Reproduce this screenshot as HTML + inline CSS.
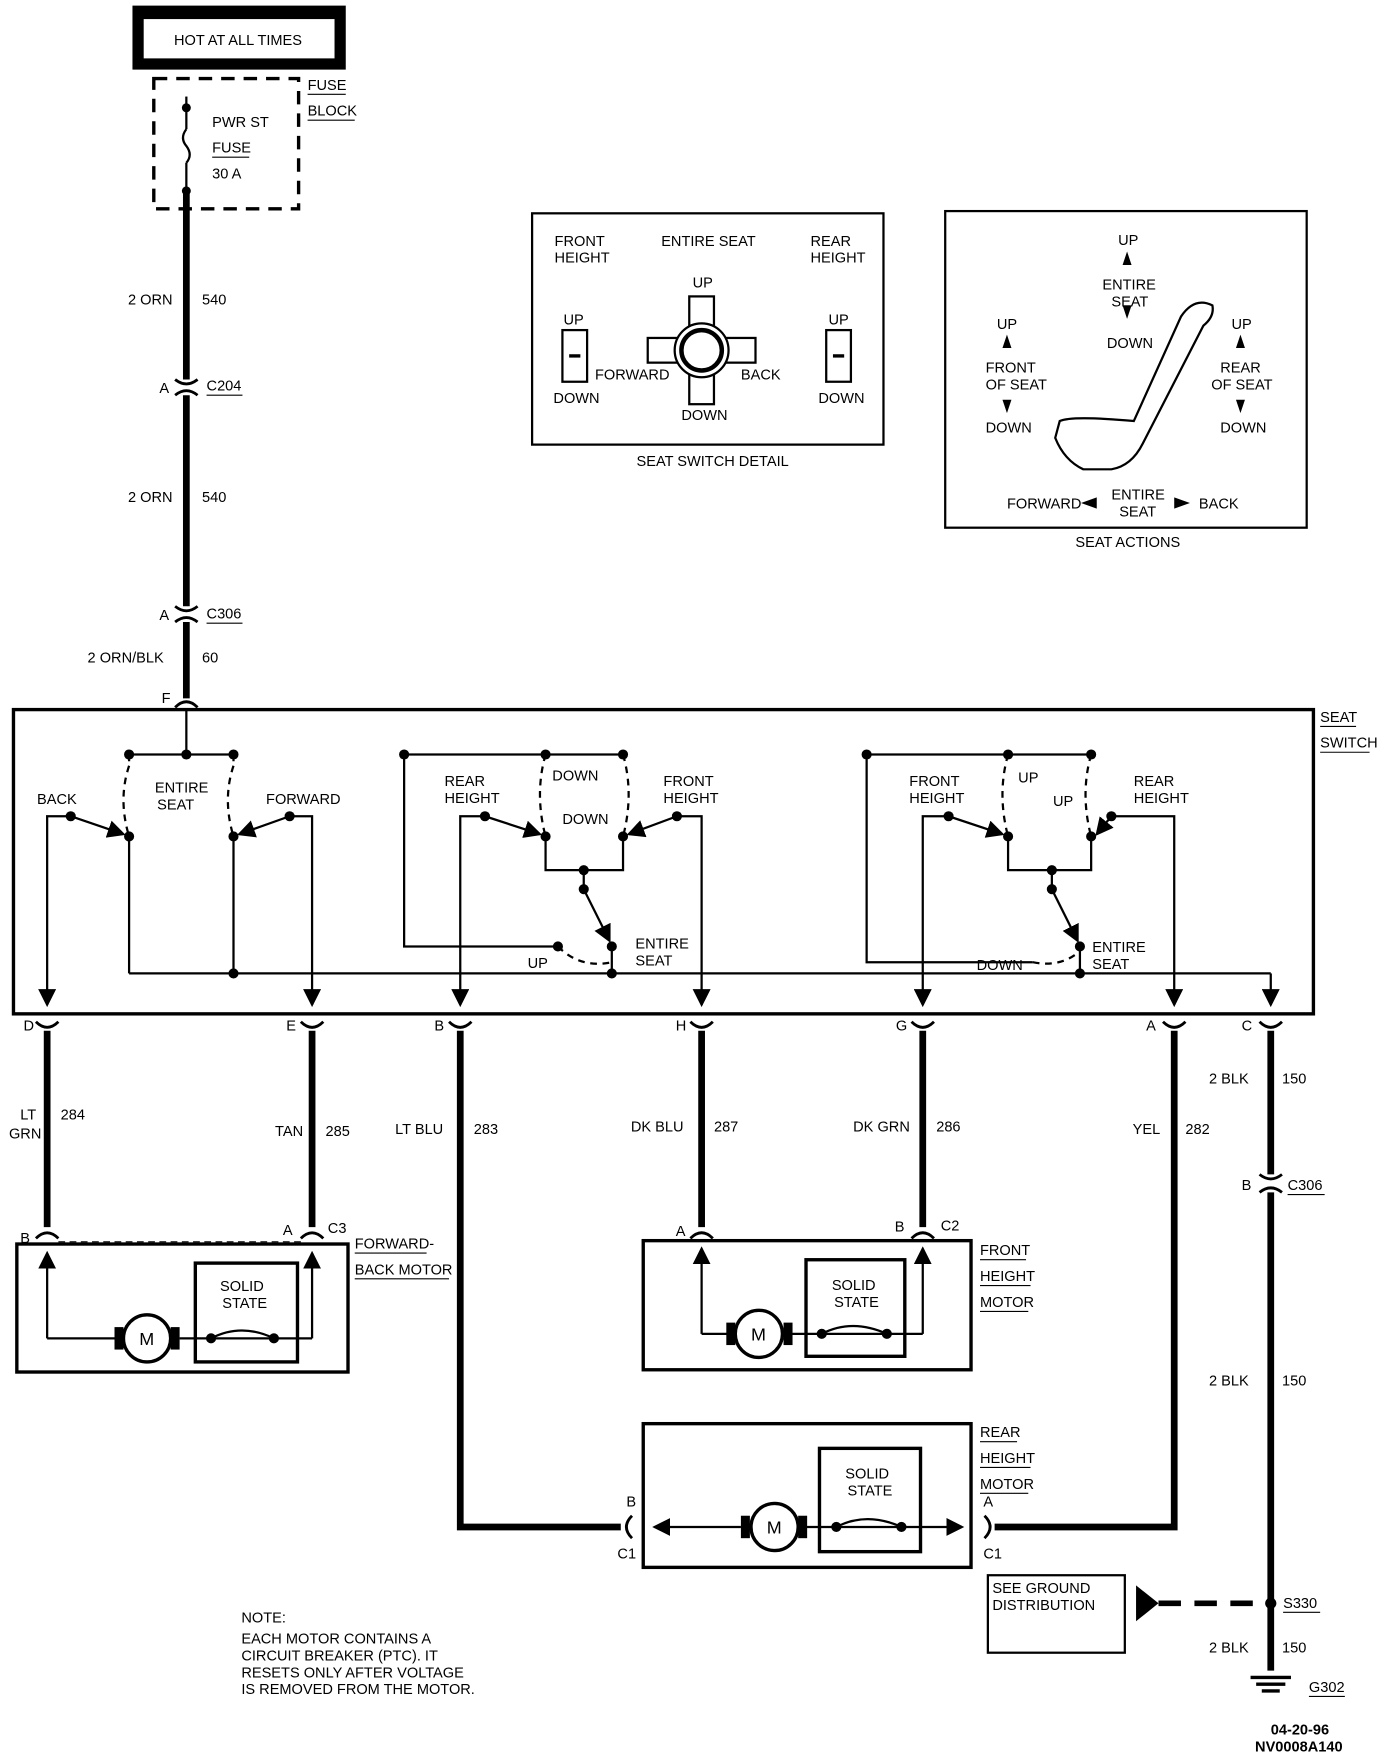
<!DOCTYPE html>
<html><head><meta charset="utf-8"><style>
html,body{margin:0;padding:0;background:#fff;}
svg{display:block;}
text{font-family:"Liberation Sans",sans-serif;font-size:13px;fill:#000;}
</style></head><body>
<svg width="1392" height="1756" viewBox="0 0 1240 1564" preserveAspectRatio="none" xmlns="http://www.w3.org/2000/svg">
<defs><marker id="ar" markerWidth="8" markerHeight="8" refX="7" refY="4" orient="auto"><path d="M0,0 L8,4 L0,8 z" fill="#000"/></marker></defs>
<rect x="0" y="0" width="1240" height="1564" fill="#fff"/>
<!-- HOT box -->
<rect x="118" y="5" width="190" height="57" fill="#000"/>
<rect x="128" y="17" width="170" height="35" fill="#fff"/>
<text x="155" y="40">HOT AT ALL TIMES</text>
<rect x="137" y="70" width="129" height="116" fill="none" stroke="#000" stroke-width="3" stroke-dasharray="12,8"/>
<text x="274" y="80">FUSE</text><line x1="274" y1="84" x2="308" y2="84" stroke="#000"/>
<text x="274" y="103">BLOCK</text><line x1="274" y1="107" x2="316" y2="107" stroke="#000"/>
<text x="189" y="113">PWR ST</text><text x="189" y="136">FUSE</text><line x1="189" y1="140" x2="222" y2="140" stroke="#000"/><text x="189" y="159">30 A</text>
<line x1="166" y1="86" x2="166" y2="115" stroke="#000" stroke-width="2"/>
<path d="M166,115 q-6,8 0,15 q6,8 0,15" fill="none" stroke="#000" stroke-width="2"/>
<line x1="166" y1="145" x2="166" y2="172" stroke="#000" stroke-width="2"/>
<circle cx="166" cy="96" r="4"/><circle cx="166" cy="170" r="4"/>
<!-- main feed -->
<line x1="166" y1="172" x2="166" y2="338" stroke="#000" stroke-width="6"/>
<line x1="166" y1="352" x2="166" y2="540" stroke="#000" stroke-width="6"/>
<line x1="166" y1="554" x2="166" y2="622" stroke="#000" stroke-width="6"/>
<text x="114" y="271">2 ORN</text><text x="180" y="271">540</text>
<text x="114" y="447">2 ORN</text><text x="180" y="447">540</text>
<text x="78" y="590">2 ORN/BLK</text><text x="180" y="590">60</text>
<path d="M156,338 q10,8 20,0 M156,352 q10,-8 20,0" fill="none" stroke="#000" stroke-width="2.5"/>
<text x="142" y="350">A</text><text x="184" y="348">C204</text><line x1="184" y1="352" x2="216" y2="352" stroke="#000"/>
<path d="M156,540 q10,8 20,0 M156,554 q10,-8 20,0" fill="none" stroke="#000" stroke-width="2.5"/>
<text x="142" y="552">A</text><text x="184" y="551">C306</text><line x1="184" y1="555" x2="216" y2="555" stroke="#000"/>
<path d="M156,630 q10,-10 20,0" fill="none" stroke="#000" stroke-width="2.5"/><text x="144" y="626">F</text>
<!-- switch detail inset -->
<rect x="474" y="190" width="313" height="206" fill="none" stroke="#000" stroke-width="2"/>
<text x="494" y="219">FRONT</text><text x="494" y="234">HEIGHT</text>
<text x="589" y="219">ENTIRE SEAT</text>
<text x="722" y="219">REAR</text><text x="722" y="234">HEIGHT</text>
<text x="617" y="256">UP</text><text x="502" y="289">UP</text><text x="738" y="289">UP</text>
<rect x="501" y="294" width="22" height="46" fill="none" stroke="#000" stroke-width="2"/><line x1="507" y1="317" x2="517" y2="317" stroke="#000" stroke-width="3"/>
<rect x="736" y="294" width="22" height="46" fill="none" stroke="#000" stroke-width="2"/><line x1="742" y1="317" x2="752" y2="317" stroke="#000" stroke-width="3"/>
<text x="493" y="359">DOWN</text><text x="729" y="359">DOWN</text>
<rect x="614" y="264" width="22" height="96" fill="none" stroke="#000" stroke-width="2"/>
<rect x="577" y="301" width="96" height="22" fill="none" stroke="#000" stroke-width="2"/>
<circle cx="625" cy="312" r="24" fill="#fff" stroke="#000" stroke-width="2"/><circle cx="625" cy="312" r="18" fill="none" stroke="#000" stroke-width="4"/>
<text x="530" y="338">FORWARD</text><text x="660" y="338">BACK</text><text x="607" y="374">DOWN</text>
<text x="567" y="415">SEAT SWITCH DETAIL</text>
<!-- seat actions -->
<rect x="842" y="188" width="322" height="282" fill="none" stroke="#000" stroke-width="2"/>
<text x="996" y="218">UP</text><path d="M1004,224 l-4,12 h8z"/>
<text x="982" y="258">ENTIRE</text><text x="990" y="273">SEAT</text><path d="M1004,280 l-4,-12 h8z" transform="translate(0,4)"/>
<text x="986" y="310">DOWN</text>
<text x="888" y="293">UP</text><path d="M897,298 l-4,12 h8z"/><text x="878" y="332">FRONT</text><text x="878" y="347">OF SEAT</text><path d="M897,368 l-4,-12 h8z"/><text x="878" y="385">DOWN</text>
<text x="1097" y="293">UP</text><path d="M1105,298 l-4,12 h8z"/><text x="1087" y="332">REAR</text><text x="1079" y="347">OF SEAT</text><path d="M1105,368 l-4,-12 h8z"/><text x="1087" y="385">DOWN</text>
<path d="M1010,375 L1052,282 Q1064,264 1080,272 Q1082,282 1072,290 L1018,395 Q1008,415 990,418 L965,418 Q948,410 940,390 L944,375 Q955,370 1010,375z" fill="none" stroke="#000" stroke-width="2"/>
<text x="897" y="453">FORWARD</text><path d="M963,448 l14,-5 v10z"/><text x="990" y="445">ENTIRE</text><text x="997" y="460">SEAT</text><path d="M1060,448 l-14,-5 v10z"/><text x="1068" y="453">BACK</text>
<text x="958" y="487">SEAT ACTIONS</text>
<!-- seat switch -->
<rect x="12" y="632" width="1158" height="271" fill="none" stroke="#000" stroke-width="3"/>
<text x="1176" y="643">SEAT</text><line x1="1176" y1="647" x2="1208" y2="647" stroke="#000"/>
<text x="1176" y="666">SWITCH</text><line x1="1176" y1="670" x2="1220" y2="670" stroke="#000"/>
<g stroke="#000" stroke-width="2" fill="none">
<line x1="166" y1="632" x2="166" y2="672"/>
<line x1="115" y1="672" x2="208" y2="672"/>
<path d="M115,672 v10 M115,682 q-10,30 0,63" stroke-dasharray="6,5"/>
<path d="M208,672 v10 M208,682 q-10,30 0,63" stroke-dasharray="6,5"/>
<line x1="115" y1="745" x2="115" y2="867"/><line x1="208" y1="745" x2="208" y2="867"/>
<line x1="115" y1="867" x2="1132" y2="867"/>
<line x1="1132" y1="867" x2="1132" y2="895" marker-end="url(#ar)"/>
<polyline points="63,727 42,727 42,895" marker-end="url(#ar)"/>
<line x1="63" y1="727" x2="110" y2="743" marker-end="url(#ar)"/>
<polyline points="258,727 278,727 278,895" marker-end="url(#ar)"/>
<line x1="258" y1="727" x2="213" y2="743" marker-end="url(#ar)"/>
<!-- middle group -->
<polyline points="360,672 555,672"/>
<polyline points="360,672 360,843 497,843"/>
<path d="M486,672 q-10,35 0,73 M555,672 q10,35 0,73" stroke-dasharray="6,5"/>
<polyline points="432,727 410,727 410,895" marker-end="url(#ar)"/>
<line x1="432" y1="727" x2="481" y2="743" marker-end="url(#ar)"/>
<polyline points="603,727 625,727 625,895" marker-end="url(#ar)"/>
<line x1="603" y1="727" x2="560" y2="743" marker-end="url(#ar)"/>
<polyline points="486,745 486,775 555,775 555,745"/>
<line x1="520" y1="775" x2="520" y2="792"/>
<line x1="520" y1="792" x2="543" y2="838" marker-end="url(#ar)"/>
<path d="M497,843 q20,20 48,14" stroke-dasharray="6,5"/>
<line x1="545" y1="843" x2="545" y2="867"/>
<!-- right group -->
<polyline points="772,672 972,672"/>
<polyline points="772,672 772,857 920,857"/>
<path d="M898,672 q-10,35 0,73 M972,672 q-10,35 0,73" stroke-dasharray="6,5"/>
<polyline points="845,727 822,727 822,895" marker-end="url(#ar)"/>
<line x1="845" y1="727" x2="893" y2="743" marker-end="url(#ar)"/>
<polyline points="990,727 1046,727 1046,895" marker-end="url(#ar)"/>
<line x1="990" y1="727" x2="977" y2="743" marker-end="url(#ar)"/>
<polyline points="898,745 898,775 972,775 972,745"/>
<line x1="937" y1="775" x2="937" y2="792"/>
<line x1="937" y1="792" x2="960" y2="838" marker-end="url(#ar)"/>
<path d="M920,857 q25,5 42,-10" stroke-dasharray="6,5"/>
<line x1="962" y1="843" x2="962" y2="867"/>
</g>
<g fill="#000">
<circle cx="166" cy="672" r="4.5"/><circle cx="115" cy="672" r="4.5"/><circle cx="208" cy="672" r="4.5"/>
<circle cx="63" cy="727" r="4.5"/><circle cx="258" cy="727" r="4.5"/><circle cx="115" cy="745" r="4.5"/><circle cx="208" cy="745" r="4.5"/><circle cx="208" cy="867" r="4.5"/>
<circle cx="360" cy="672" r="4.5"/><circle cx="486" cy="672" r="4.5"/><circle cx="555" cy="672" r="4.5"/>
<circle cx="432" cy="727" r="4.5"/><circle cx="603" cy="727" r="4.5"/><circle cx="486" cy="745" r="4.5"/><circle cx="555" cy="745" r="4.5"/>
<circle cx="520" cy="775" r="4.5"/><circle cx="520" cy="792" r="4.5"/><circle cx="497" cy="843" r="4.5"/><circle cx="545" cy="843" r="4.5"/><circle cx="545" cy="867" r="4.5"/>
<circle cx="772" cy="672" r="4.5"/><circle cx="898" cy="672" r="4.5"/><circle cx="972" cy="672" r="4.5"/>
<circle cx="845" cy="727" r="4.5"/><circle cx="990" cy="727" r="4.5"/><circle cx="898" cy="745" r="4.5"/><circle cx="972" cy="745" r="4.5"/>
<circle cx="937" cy="775" r="4.5"/><circle cx="937" cy="792" r="4.5"/><circle cx="962" cy="843" r="4.5"/><circle cx="962" cy="867" r="4.5"/>
</g>
<text x="33" y="716">BACK</text><text x="138" y="706">ENTIRE</text><text x="140" y="721">SEAT</text><text x="237" y="716">FORWARD</text>
<text x="396" y="700">REAR</text><text x="396" y="715">HEIGHT</text><text x="492" y="695">DOWN</text><text x="501" y="734">DOWN</text><text x="591" y="700">FRONT</text><text x="591" y="715">HEIGHT</text>
<text x="470" y="862">UP</text><text x="566" y="845">ENTIRE</text><text x="566" y="860">SEAT</text>
<text x="810" y="700">FRONT</text><text x="810" y="715">HEIGHT</text><text x="907" y="697">UP</text><text x="938" y="718">UP</text><text x="1010" y="700">REAR</text><text x="1010" y="715">HEIGHT</text>
<text x="870" y="864">DOWN</text><text x="973" y="848">ENTIRE</text><text x="973" y="863">SEAT</text>
<!-- bottom connectors -->
<g fill="none" stroke="#000" stroke-width="2.5">
<path d="M32,910 q10,10 20,0 M268,910 q10,10 20,0 M400,910 q10,10 20,0 M615,910 q10,10 20,0 M812,910 q10,10 20,0 M1036,910 q10,10 20,0 M1122,910 q10,10 20,0"/>
</g>
<text x="21" y="918">D</text><text x="255" y="918">E</text><text x="387" y="918">B</text><text x="602" y="918">H</text><text x="798" y="918">G</text><text x="1021" y="918">A</text><text x="1106" y="918">C</text>
<g stroke="#000" stroke-width="6" fill="none">
<line x1="42" y1="918" x2="42" y2="1093"/><line x1="278" y1="918" x2="278" y2="1093"/>
<polyline points="410,918 410,1360 553,1360"/>
<line x1="625" y1="918" x2="625" y2="1093"/><line x1="822" y1="918" x2="822" y2="1093"/>
<polyline points="1046,918 1046,1360 886,1360"/>
<line x1="1132" y1="918" x2="1132" y2="1046"/><line x1="1132" y1="1062" x2="1132" y2="1488"/>
</g>
<text x="18" y="997">LT</text><text x="8" y="1014">GRN</text><text x="54" y="997">284</text>
<text x="245" y="1012">TAN</text><text x="290" y="1012">285</text>
<text x="352" y="1010">LT BLU</text><text x="422" y="1010">283</text>
<text x="562" y="1008">DK BLU</text><text x="636" y="1008">287</text>
<text x="760" y="1008">DK GRN</text><text x="834" y="1008">286</text>
<text x="1009" y="1010">YEL</text><text x="1056" y="1010">282</text>
<text x="1077" y="965">2 BLK</text><text x="1142" y="965">150</text>
<text x="1077" y="1234">2 BLK</text><text x="1142" y="1234">150</text>
<text x="1077" y="1472">2 BLK</text><text x="1142" y="1472">150</text>
<path d="M1122,1046 q10,8 20,0 M1122,1062 q10,-8 20,0" fill="none" stroke="#000" stroke-width="2.5"/>
<text x="1106" y="1060">B</text><text x="1147" y="1060">C306</text><line x1="1147" y1="1064" x2="1180" y2="1064" stroke="#000"/>
<!-- FB motor -->
<path d="M32,1103 q10,-10 20,0 M268,1103 q10,-10 20,0" fill="none" stroke="#000" stroke-width="2.5"/>
<text x="18" y="1107">B</text><text x="252" y="1100">A</text><text x="292" y="1098">C3</text>
<line x1="52" y1="1106" x2="268" y2="1106" stroke="#000" stroke-dasharray="6,4"/>
<rect x="15" y="1108" width="295" height="114" fill="none" stroke="#000" stroke-width="3"/>
<text x="316" y="1112">FORWARD-</text><line x1="316" y1="1116" x2="380" y2="1116" stroke="#000"/>
<text x="316" y="1135">BACK MOTOR</text><line x1="316" y1="1139" x2="400" y2="1139" stroke="#000"/>
<g stroke="#000" stroke-width="2" fill="none">
<polyline points="42,1192 42,1116" marker-end="url(#ar)"/><line x1="42" y1="1192" x2="104" y2="1192"/>
<polyline points="278,1192 278,1116" marker-end="url(#ar)"/><line x1="160" y1="1192" x2="278" y2="1192"/>
<rect x="174" y="1125" width="91" height="88" stroke-width="3"/>
<path d="M188,1192 q27,-14 56,0"/>
</g>
<rect x="102" y="1182" width="8" height="20"/><rect x="152" y="1182" width="8" height="20"/>
<circle cx="131" cy="1192" r="21" fill="#fff" stroke="#000" stroke-width="3"/><text x="124" y="1198" style="font-size:16px">M</text>
<circle cx="188" cy="1192" r="4.5"/><circle cx="244" cy="1192" r="4.5"/>
<text x="196" y="1150">SOLID</text><text x="198" y="1165">STATE</text>
<!-- Front height motor -->
<path d="M615,1103 q10,-10 20,0 M812,1103 q10,-10 20,0" fill="none" stroke="#000" stroke-width="2.5"/>
<text x="602" y="1101">A</text><text x="797" y="1097">B</text><text x="838" y="1096">C2</text>
<line x1="635" y1="1104" x2="812" y2="1104" stroke="#000" stroke-dasharray="6,4"/>
<rect x="573" y="1105" width="292" height="115" fill="none" stroke="#000" stroke-width="3"/>
<text x="873" y="1118">FRONT</text><line x1="873" y1="1122" x2="914" y2="1122" stroke="#000"/>
<text x="873" y="1141">HEIGHT</text><line x1="873" y1="1145" x2="918" y2="1145" stroke="#000"/>
<text x="873" y="1164">MOTOR</text><line x1="873" y1="1168" x2="916" y2="1168" stroke="#000"/>
<g stroke="#000" stroke-width="2" fill="none">
<polyline points="625,1188 625,1112" marker-end="url(#ar)"/><line x1="625" y1="1188" x2="648" y2="1188"/>
<polyline points="822,1188 822,1112" marker-end="url(#ar)"/><line x1="705" y1="1188" x2="822" y2="1188"/>
<rect x="718" y="1122" width="88" height="86" stroke-width="3"/>
<path d="M732,1188 q27,-14 58,0"/>
</g>
<rect x="647" y="1178" width="8" height="20"/><rect x="698" y="1178" width="8" height="20"/>
<circle cx="676" cy="1188" r="21" fill="#fff" stroke="#000" stroke-width="3"/><text x="669" y="1194" style="font-size:16px">M</text>
<circle cx="732" cy="1188" r="4.5"/><circle cx="790" cy="1188" r="4.5"/>
<text x="741" y="1149">SOLID</text><text x="743" y="1164">STATE</text>
<!-- Rear height motor -->
<rect x="573" y="1268" width="292" height="128" fill="none" stroke="#000" stroke-width="3"/>
<path d="M563,1350 q-10,10 0,20 M877,1350 q10,10 0,20" fill="none" stroke="#000" stroke-width="2.5"/>
<text x="558" y="1342">B</text><text x="550" y="1388">C1</text><text x="876" y="1342">A</text><text x="876" y="1388">C1</text>
<text x="873" y="1280">REAR</text><line x1="873" y1="1284" x2="906" y2="1284" stroke="#000"/>
<text x="873" y="1303">HEIGHT</text><line x1="873" y1="1307" x2="918" y2="1307" stroke="#000"/>
<text x="873" y="1326">MOTOR</text><line x1="873" y1="1330" x2="916" y2="1330" stroke="#000"/>
<g stroke="#000" stroke-width="2" fill="none">
<line x1="620" y1="1360" x2="583" y2="1360" marker-end="url(#ar)"/>
<line x1="620" y1="1360" x2="660" y2="1360"/><line x1="718" y1="1360" x2="820" y2="1360"/>
<line x1="820" y1="1360" x2="857" y2="1360" marker-end="url(#ar)"/>
<rect x="730" y="1290" width="90" height="92" stroke-width="3"/>
<path d="M745,1360 q27,-14 58,0"/>
</g>
<rect x="660" y="1350" width="8" height="20"/><rect x="711" y="1350" width="8" height="20"/>
<circle cx="690" cy="1360" r="21" fill="#fff" stroke="#000" stroke-width="3"/><text x="683" y="1366" style="font-size:16px">M</text>
<circle cx="745" cy="1360" r="4.5"/><circle cx="803" cy="1360" r="4.5"/>
<text x="753" y="1317">SOLID</text><text x="755" y="1332">STATE</text>
<!-- ground -->
<rect x="880" y="1403" width="122" height="69" fill="none" stroke="#000" stroke-width="2"/>
<text x="884" y="1419">SEE GROUND</text><text x="884" y="1434">DISTRIBUTION</text>
<path d="M1012,1412 L1032,1428 L1012,1444z"/>
<line x1="1032" y1="1428" x2="1132" y2="1428" stroke="#000" stroke-width="5" stroke-dasharray="20,12"/>
<circle cx="1132" cy="1428" r="5"/>
<text x="1143" y="1432">S330</text><line x1="1143" y1="1436" x2="1176" y2="1436" stroke="#000"/>
<line x1="1114" y1="1494" x2="1150" y2="1494" stroke="#000" stroke-width="3"/>
<line x1="1119" y1="1500" x2="1145" y2="1500" stroke="#000" stroke-width="3"/>
<line x1="1124" y1="1506" x2="1140" y2="1506" stroke="#000" stroke-width="3"/>
<text x="1166" y="1507">G302</text><line x1="1166" y1="1511" x2="1198" y2="1511" stroke="#000"/>
<text x="215" y="1445">NOTE:</text>
<text x="215" y="1464">EACH MOTOR CONTAINS A</text>
<text x="215" y="1479">CIRCUIT BREAKER (PTC). IT</text>
<text x="215" y="1494">RESETS ONLY AFTER VOLTAGE</text>
<text x="215" y="1509">IS REMOVED FROM THE MOTOR.</text>
<text x="1132" y="1545" style="font-weight:bold">04-20-96</text>
<text x="1118" y="1560" style="font-weight:bold">NV0008A140</text>
</svg>
</body></html>
